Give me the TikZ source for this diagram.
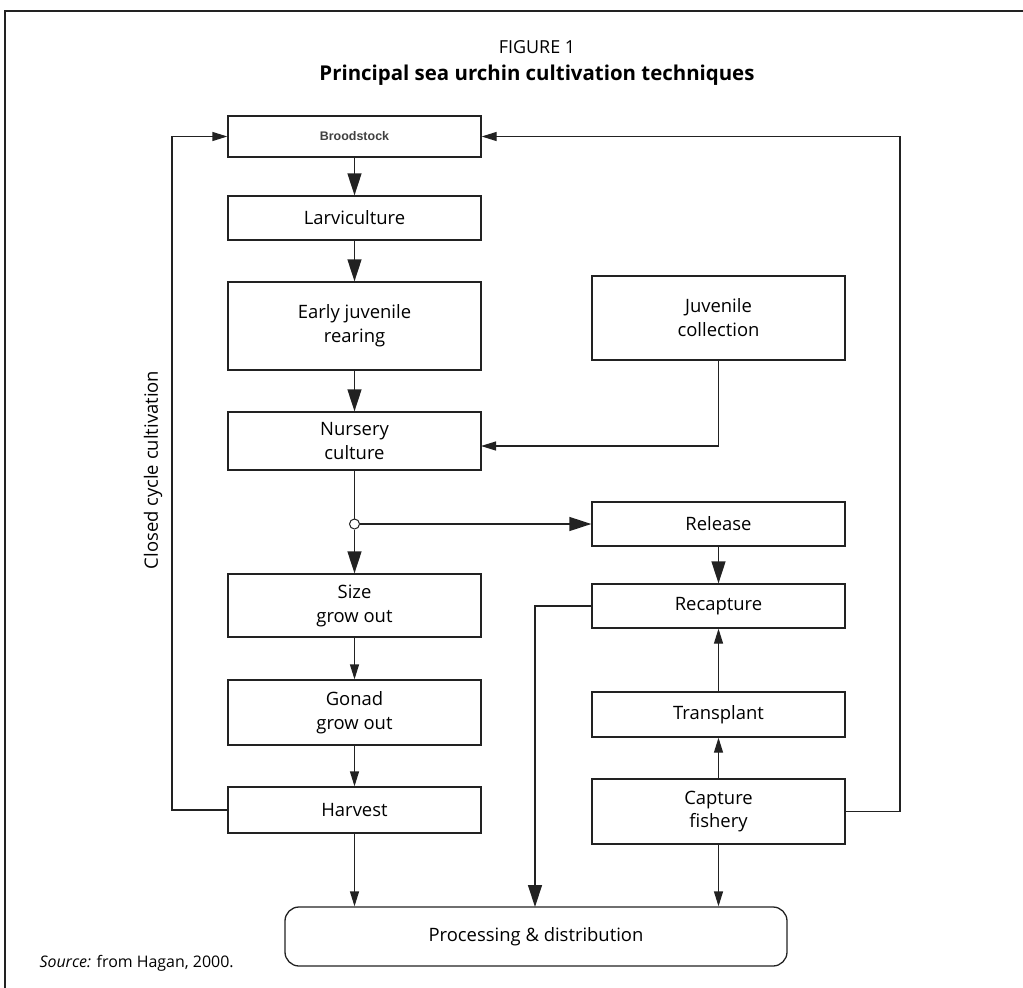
\documentclass[tikz,border=0pt]{standalone}
\usepackage{fontspec}
\setmainfont{Open Sans}
\newfontfamily\arialf{Liberation Sans}
\usetikzlibrary{arrows.meta}
\definecolor{ink}{HTML}{222222}
\begin{document}
\begin{tikzpicture}[x=1bp,y=-1bp,
  box/.style={draw=ink,line width=1.3bp,rectangle,inner sep=0pt,minimum width=253bp,align=center,
     font=\fontsize{18.5}{24}\selectfont},
  big/.style={-{Triangle[length=22bp,width=14bp]}},
  small/.style={-{Triangle[length=15bp,width=9bp]}},
  conn/.style={draw=ink,line width=1.3bp}]
\useasboundingbox (0,0) rectangle (1023,988);
% frame
\draw[line width=1.3bp,draw=ink] (5,1100) -- (5,11) -- (1100,11);
% title
\node[font=\fontsize{18}{22}\selectfont] (fig) at (537,47) {FIGURE 1};
\node[font=\fontsize{20.5}{24}\selectfont\bfseries] (title) at (537,75) {Principal sea urchin cultivation techniques};
% left column
\node[box,minimum height=41bp,font=\arialf\fontsize{12.5}{14}\selectfont\bfseries,text=black!75] (brood) at (354.5,136.5) {Broodstock};
\node[box,minimum height=44bp] (larvi) at (354.5,218) {Larviculture};
\node[box,minimum height=88bp] (early) at (354.5,326) {Early juvenile\\rearing};
\node[box,minimum height=58bp] (nurs) at (354.5,441) {Nursery\\culture};
\node[box,minimum height=63bp] (size) at (354.5,605.5) {Size\\grow out};
\node[box,minimum height=65bp] (gonad) at (354.5,712.5) {Gonad\\grow out};
\node[box,minimum height=46bp] (harv) at (354.5,810) {Harvest};
% right column
\node[box,minimum height=84bp] (juv) at (718.5,318) {Juvenile\\collection};
\node[box,minimum height=44bp] (rel) at (718.5,524) {Release};
\node[box,minimum height=44bp] (recap) at (718.5,606) {Recapture};
\node[box,minimum height=45bp] (trans) at (718.5,714.5) {Transplant};
\node[box,minimum height=65bp] (capt) at (718.5,811.5) {Capture\\fishery};
% processing
\node[box,minimum width=502bp,minimum height=59bp,rounded corners=14bp] (proc) at (536,936.5) {Processing \& distribution};
% junction
\node[draw=ink,line width=1bp,circle,fill=white,inner sep=0pt,minimum size=10bp] (junc) at (354.5,524) {};
% side label
\node[rotate=90,font=\fontsize{18.5}{22}\selectfont] (ccc) at (153,470) {Closed cycle cultivation};
% source
\node[anchor=west,font=\fontsize{16}{18}\selectfont] (src) at (36,963) {\textit{Source:} from Hagan, 2000.};
% coordinates
\coordinate (jn) at (481,446);
\coordinate (rc) at (535,907);
\coordinate (ll) at (172,810);
\coordinate (rr) at (900,811.5);
% connectors
\draw[conn,big] (brood) -- (larvi);
\draw[conn,big] (larvi) -- (early);
\draw[conn,big] (early) -- (nurs);
\draw[conn] (nurs) -- (junc);
\draw[conn,big] (junc) -- (size);
\draw[conn,big] (junc) -- (rel);
\draw[conn,small] (size) -- (gonad);
\draw[conn,small] (gonad) -- (harv);
\draw[conn,small] (harv) -- (harv.south |- proc.north);
\draw[conn,big] (rel) -- (recap);
\draw[conn,small] (trans) -- (recap);
\draw[conn,small] (capt) -- (trans);
\draw[conn,small] (capt) -- (capt.south |- proc.north);
\draw[conn,big] (recap.west) -| (rc);
\draw[conn,small] (juv.south) |- (jn);
\draw[conn,small] (harv.west) -- (ll) |- (brood.west);
\draw[conn,small] (capt.east) -- (rr) |- (brood.east);
\end{tikzpicture}
\end{document}
